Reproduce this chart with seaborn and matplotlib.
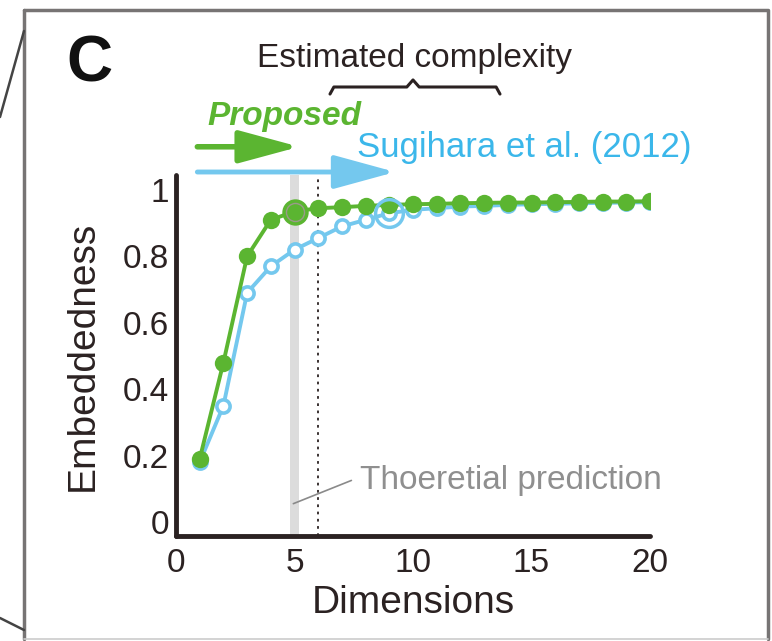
import matplotlib
matplotlib.use("Agg")
import matplotlib.pyplot as plt
import seaborn as sns
import pandas as pd
from matplotlib.lines import Line2D

dims = list(range(1, 21))
proposed = [0.19, 0.48, 0.80, 0.91, 0.935, 0.945, 0.948, 0.952, 0.955, 0.957, 0.958, 0.960, 0.961, 0.962, 0.962, 0.963, 0.964, 0.965, 0.965, 0.966]
sugihara = [0.18, 0.35, 0.69, 0.77, 0.82, 0.855, 0.89, 0.91, 0.93, 0.94, 0.945, 0.95, 0.952, 0.955, 0.957, 0.958, 0.96, 0.961, 0.962, 0.963]
est_proposed = 5
est_sugihara = 9
theory = 6
xticks = [0, 5, 10, 15, 20]
yticks = [0, 0.2, 0.4, 0.6, 0.8, 1]
ytick_labels = ["0", "0.2", "0.4", "0.6", "0.8", "1"]

GREEN = "#5bb531"
BLUE = "#74c8ee"
BLUE_TXT = "#3bb7ea"
DARK = "#2b2222"
FRAME = "#777474"

sns.set_theme(style="white")
plt.rcParams["font.family"] = ["Liberation Sans", "DejaVu Sans"]

fig = plt.figure(figsize=(7.72, 6.41), dpi=100)
ax = fig.add_axes([0.228, 0.164, 0.614, 0.563])

df = pd.DataFrame({"dim": dims, "proposed": proposed, "sugihara": sugihara})

# theoretical band and dotted line
ax.axvspan(est_proposed - 0.2, est_proposed + 0.2, color="#dcdcdc", zorder=0, lw=0)
ax.axvline(theory, color=DARK, ls=(0, (1.5, 2.5)), lw=1.3, zorder=1)

sns.lineplot(data=df, x="dim", y="sugihara", ax=ax, color=BLUE, lw=2.8,
             marker="o", markersize=9.5, markerfacecolor="white",
             markeredgecolor=BLUE, markeredgewidth=2.6, zorder=3)
sns.lineplot(data=df, x="dim", y="proposed", ax=ax, color=GREEN, lw=2.8,
             marker="o", markersize=12.5, markerfacecolor=GREEN,
             markeredgecolor=GREEN, markeredgewidth=0, zorder=4)

# highlighted estimated complexities
ax.plot([est_sugihara], [sugihara[est_sugihara - 1]], "o", ms=20, mfc="none",
        mec=BLUE, mew=2.5, zorder=5)
ax.plot([est_proposed], [proposed[est_proposed - 1]], "o", ms=19, mfc=GREEN,
        mec=GREEN, mew=0, zorder=5)
ax.plot([est_proposed], [proposed[est_proposed - 1]], "o", ms=13, mfc="none",
        mec="#9a9a8a", mew=1.0, ls="none", zorder=6)

ax.set_xlim(0, 20)
ax.set_ylim(-0.042, 1.045)
ax.set_xticks(xticks)
ax.set_yticks(yticks)
ax.set_yticklabels(ytick_labels)
ax.tick_params(axis="both", labelsize=24, colors=DARK, direction="in",
               length=4, width=2)
ax.tick_params(axis="x", pad=9)
ax.tick_params(axis="y", pad=5)
ax.set_xlabel("Dimensions", fontsize=28, color=DARK, labelpad=4)
ax.set_ylabel("Embeddedness", fontsize=28, color=DARK, labelpad=16)
for s in ["top", "right"]:
    ax.spines[s].set_visible(False)
for s in ["left", "bottom"]:
    ax.spines[s].set_color(DARK)
    ax.spines[s].set_linewidth(3.5)
    ax.spines[s].set_capstyle("round")
ax.spines["bottom"].set_bounds(0, 20)

# theoretical prediction annotation
ax.plot([4.95, 7.4], [0.055, 0.125], color="#8a8a8a", lw=1.2, zorder=2)
ax.text(7.75, 0.125, "Thoeretial prediction", fontsize=24, color="#8f8f8f",
        va="center", ha="left")

# arrows above the axes (data coordinates, clip off)
ax.annotate("", xy=(5.2, 1.13), xytext=(0.9, 1.13),
            arrowprops=dict(arrowstyle="-|>,head_length=1.85,head_width=0.5",
                            color=GREEN, lw=4, shrinkA=0, shrinkB=0,
                            mutation_scale=20),
            annotation_clip=False)
ax.annotate("", xy=(9.25, 1.054), xytext=(0.9, 1.054),
            arrowprops=dict(arrowstyle="-|>,head_length=1.9,head_width=0.52",
                            color=BLUE, lw=3.5, shrinkA=0, shrinkB=0,
                            mutation_scale=20),
            annotation_clip=False)

fig.text(207 / 772, 1 - 117 / 641, "Proposed", fontsize=24, color=GREEN,
         fontweight="bold", fontstyle="italic", va="center", ha="left")
fig.text(357 / 772, 1 - 147 / 641, "Sugihara et al. (2012)", fontsize=25,
         color=BLUE_TXT, va="center", ha="left")
fig.text(257 / 772, 1 - 59 / 641, "Estimated complexity", fontsize=24,
         color=DARK, va="center", ha="left")
fig.text(66 / 772, 1 - 65 / 641, "C", fontsize=46, color="#111111",
         fontweight="bold", va="center", ha="left")

# curly brace
bx0, bx1, by = 330 / 772, 500 / 772, 1 - 87 / 641
bm = 413 / 772
xs = [bx0, bx0 + 0.005, bm - 0.008, bm, bm + 0.008, bx1 - 0.005, bx1]
ys = [by - 0.011, by, by, by + 0.011, by, by, by - 0.011]
fig.add_artist(Line2D(xs, ys, color=DARK, lw=2.2, transform=fig.transFigure,
                      solid_joinstyle="round", solid_capstyle="round"))

# panel frame
L, R, T, B = 24 / 772, 768 / 772, 1 - 10 / 641, 1 - 639 / 641
fig.add_artist(Line2D([L, R, R], [T, T, B], color=FRAME, lw=2.5,
                      transform=fig.transFigure))
fig.add_artist(Line2D([L, L], [T, B], color=FRAME, lw=2.5,
                      transform=fig.transFigure))
fig.add_artist(Line2D([L, R], [B, B], color="#cccccc", lw=1.2,
                      transform=fig.transFigure))
fig.add_artist(Line2D([0, L], [1 - 117 / 641, 1 - 31 / 641],
                      color="#444444", lw=1.8, transform=fig.transFigure))
fig.add_artist(Line2D([0, L], [1 - 618 / 641, 1 - 630 / 641],
                      color="#444444", lw=1.8, transform=fig.transFigure))

fig.savefig("out.png", dpi=100)
